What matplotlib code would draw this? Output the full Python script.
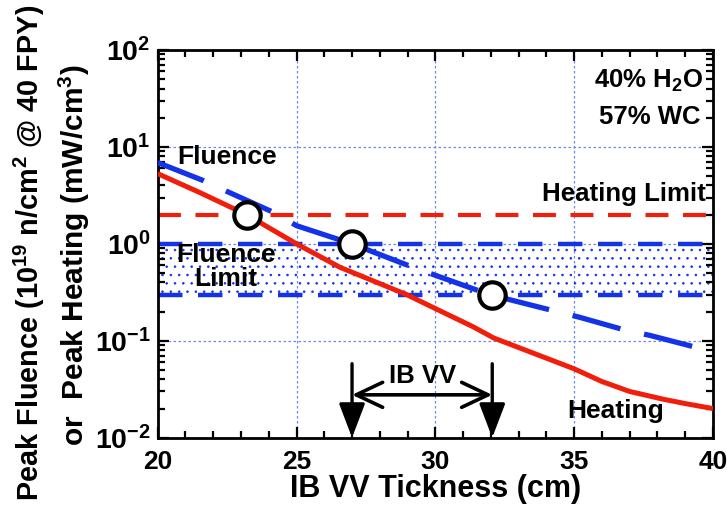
import matplotlib
matplotlib.use("Agg")
import matplotlib.pyplot as plt
import numpy as np
from matplotlib.ticker import FixedLocator, MultipleLocator, FuncFormatter, LogLocator, NullFormatter

plt.rcParams['font.family'] = ['Liberation Sans', 'DejaVu Sans']
plt.rcParams['font.weight'] = 'bold'
plt.rcParams['mathtext.fontset'] = 'custom'
plt.rcParams['mathtext.rm'] = 'Liberation Sans:bold'
plt.rcParams['mathtext.bf'] = 'Liberation Sans:bold'
plt.rcParams['mathtext.it'] = 'Liberation Sans:bold'
plt.rcParams['mathtext.default'] = 'bf'
plt.rcParams['hatch.linewidth'] = 0.6

# ---------------- data ----------------
heat_x = [20, 21.5, 23.2, 25.0, 26.56, 28.96, 30.0, 31.35, 32.1, 33.4, 35.0, 36.0, 37.0, 38.2, 39.0, 40.0]
heat_y = [5.3, 3.4, 2.0, 1.0, 0.574, 0.30, 0.215, 0.14, 0.107, 0.077, 0.0514, 0.038, 0.030, 0.025, 0.0225, 0.020]

flu_x = [20, 21.64, 22.48, 24.16, 25.0, 27.0, 29.19, 30.09, 31.95, 33.75, 35.19, 36.87, 37.71, 39.5]
flu_y = [6.9, 4.5, 3.49, 2.12, 1.54, 1.0, 0.574, 0.464, 0.30, 0.222, 0.175, 0.128, 0.114, 0.084]

heating_limit = 2.0
fluence_limits = [0.3, 1.0]

pts_x = [23.2, 27.0, 32.05]
pts_y = [2.0, 1.0, 0.3]

vv_x = [27.0, 32.05]

xlim = (20, 40)
ylim = (1e-2, 1e2)
xticks = [20, 25, 30, 35, 40]
yexps = [-2, -1, 0, 1, 2]

RED = '#f01e0a'
BLUE = '#1432e6'
GRID = '#6f86ee'

fig = plt.figure(figsize=(7.27, 5.11), dpi=100)
ax = fig.add_axes([0.2169, 0.1434, 0.9807 - 0.2169, 0.9022 - 0.1434])

ax.set_yscale('log')
ax.set_xlim(*xlim)
ax.set_ylim(*ylim)

# grid
for xv in xticks[1:-1]:
    ax.axvline(xv, color=GRID, lw=0.9, ls=(0, (2, 2)), zorder=1)
for e in yexps[1:-1]:
    ax.axhline(10.0 ** e, color=GRID, lw=0.9, ls=(0, (2, 2)), zorder=1)

# dotted fluence-limit band
ax.fill_between(list(xlim), [fluence_limits[0]] * 2, [fluence_limits[1]] * 2,
                facecolor='none', edgecolor=BLUE, hatch='..', linewidth=0, zorder=1.5)

# limit lines
ax.axhline(heating_limit, color=RED, lw=3.0, dashes=(5.5, 3.5), zorder=2)
for fl in fluence_limits:
    ax.axhline(fl, color=BLUE, lw=3.2, dashes=(5.5, 3.5), zorder=2)

# curves
ax.plot(heat_x, heat_y, color=RED, lw=3.6, zorder=3, solid_capstyle='butt', solid_joinstyle='round')
ax.plot(flu_x, flu_y, color=BLUE, lw=3.8, dashes=(9.4, 4.6), zorder=3)

# circles
ax.plot(pts_x, pts_y, 'o', ms=19, mfc='white', mec='black', mew=3.0, zorder=5)

# IB VV arrows
arrow_top = 0.058
for xv in vv_x:
    ax.annotate('', xy=(xv, ylim[0]), xytext=(xv, arrow_top),
                arrowprops=dict(arrowstyle='-|>,head_length=2.1,head_width=0.8',
                                color='black', lw=2.4, shrinkA=0, shrinkB=0),
                zorder=6)
ax.annotate('', xy=(vv_x[0], 0.0277), xytext=(vv_x[1], 0.0277),
            arrowprops=dict(arrowstyle='<->,head_length=1.9,head_width=0.9',
                            color='black', lw=2.6, shrinkA=0, shrinkB=0),
            zorder=6)
ax.text(29.55, 0.0432, 'IB VV', ha='center', va='center', fontsize=18.5, fontweight='bold', zorder=7)

# labels inside
ax.text(22.5, 7.8, 'Fluence', ha='center', va='center', fontsize=19, fontweight='bold')
ax.text(39.75, 3.3, 'Heating Limit', ha='right', va='center', fontsize=18.6, fontweight='bold')
ax.text(22.45, 0.58, 'Fluence\nLimit', ha='center', va='center', fontsize=19,
        fontweight='bold', linespacing=1.0, zorder=4)
ax.text(36.5, 0.019, 'Heating', ha='center', va='center', fontsize=19, fontweight='bold')
ax.text(39.65, 48, r'40% H$_{2}$O', ha='right', va='center', fontsize=18.5, fontweight='bold')
ax.text(39.55, 20.5, '57% WC', ha='right', va='center', fontsize=18.5, fontweight='bold')

# ticks
ax.xaxis.set_major_locator(FixedLocator(xticks))
ax.xaxis.set_minor_locator(MultipleLocator(1))
ax.yaxis.set_major_locator(LogLocator(base=10, numticks=10))
ax.yaxis.set_minor_locator(LogLocator(base=10, subs=np.arange(2, 10), numticks=10))
ax.yaxis.set_minor_formatter(NullFormatter())
ax.yaxis.set_major_formatter(FuncFormatter(lambda v, p: r'$\mathbf{10^{%d}}$' % int(round(np.log10(v)))))
ax.tick_params(which='both', direction='in', top=True, right=True, width=1.6, colors='black')
ax.tick_params(which='major', length=8)
ax.tick_params(which='minor', length=5)
ax.tick_params(axis='x', which='major', labelsize=19, pad=9)
ax.tick_params(axis='y', which='major', labelsize=20.5, pad=5)
for lab in ax.get_xticklabels():
    lab.set_fontweight('bold')
for s in ax.spines.values():
    s.set_linewidth(2.0)

ax.set_xlabel('IB VV Tickness (cm)', fontsize=22, fontweight='bold', labelpad=0)

fig.text(0.041, 0.505, r'Peak Fluence (10$^{19}$ n/cm$^{2}$ @ 40 FPY)', rotation=90,
         ha='center', va='center', fontsize=20.8, fontweight='bold')
fig.text(0.102, 0.50, r'or  Peak Heating (mW/cm$^{3}$)', rotation=90,
         ha='center', va='center', fontsize=21.5, fontweight='bold')

fig.savefig('out.png', dpi=100)
